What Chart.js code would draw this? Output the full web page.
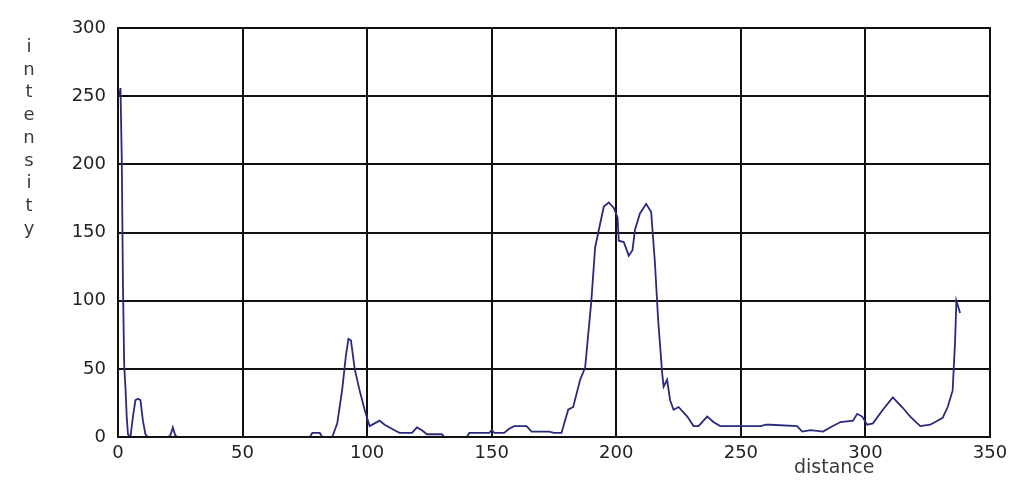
<!DOCTYPE html>
<html>
<head>
<meta charset="utf-8">
<script src="https://cdn.jsdelivr.net/npm/chart.js@4"></script>
<style>
  body { margin: 0; background: #fff; }
  #wrap { position: relative; width: 1024px; height: 487px; }
  .ylab { position: absolute; left: 19px; top: 35px; width: 20px; text-align: center;
          font: 18px "DejaVu Sans", sans-serif; line-height: 22.7px; color: #3a3a3a; }
  .xlab { position: absolute; left: 794px; top: 455px;
          font: 19px "DejaVu Sans", sans-serif; color: #3a3a3a; }
</style>
</head>
<body>
<div id="wrap">
  <canvas id="profileChart" width="1024" height="487"></canvas>
  <div class="ylab">i<br>n<br>t<br>e<br>n<br>s<br>i<br>t<br>y</div>
  <div class="xlab">distance</div>
</div>
<script>
const distance = [0.5, 1, 1.5, 2, 2.5, 3, 3.5, 4, 5, 6, 7, 8, 9, 10, 11, 12, 20, 21, 22, 23, 24,
  77, 78, 81, 82, 86, 88, 90, 91.5, 92.5, 93.5, 95, 97, 99, 100, 101, 103, 105, 107, 109, 111, 113,
  118, 120, 122, 124, 130, 131, 140, 141, 149, 150, 151, 155, 157, 159, 164, 166, 173, 175, 178,
  180.7, 182.7, 185.5, 187.5, 190, 191.5, 193, 195, 197, 199, 200.5, 201, 203, 205, 206.5, 207.5,
  209.5, 212, 214, 215.5, 216.8, 218.4, 219, 220.4, 221.6, 223, 225, 228.5, 231, 233, 236.5, 239,
  241.7, 258, 260, 262, 272.6, 274.6, 278, 283, 285.8, 290, 295, 296.7, 298.7, 300.7, 303, 307,
  311, 314.7, 318, 322, 326, 328, 331, 333, 335, 336, 336.5, 338];
const intensity = [250, 256, 205, 110, 52, 36, 15, 2, 0, 15, 27, 28, 27, 12, 2, 0, 0, 1, 7, 1, 0,
  0, 3, 3, 0, 0, 10, 35, 60, 72, 71, 50, 34, 20, 14, 8, 10, 12, 9, 7, 5, 3,
  3, 7, 5, 2, 2, 0, 0, 3, 3, 5, 3, 3, 6, 8, 8, 4, 4, 3, 3,
  20, 22, 42, 51, 100, 139, 152, 169, 172, 168, 161, 144, 143, 133, 137, 152,
  164, 171, 165, 128, 86, 47, 37, 42, 27, 20, 22, 15, 8, 8, 15, 11,
  8, 8, 9, 9, 8, 4, 5, 4, 7, 11, 12, 17, 15, 9, 10, 20,
  29, 22, 15, 8, 9, 11, 14, 22, 34, 71, 100, 91];
const xTicks = [0, 50, 100, 150, 200, 250, 300, 350];
const yTicks = [0, 50, 100, 150, 200, 250, 300];

const points = distance.map((d, i) => ({ x: d, y: intensity[i] }));
const tickFont = { family: "DejaVu Sans", size: 18 };

new Chart(document.getElementById("profileChart"), {
  type: "line",
  data: {
    datasets: [{
      data: points,
      borderColor: "#2a2a7c",
      borderWidth: 1.8,
      pointRadius: 0,
      tension: 0,
      fill: false
    }]
  },
  options: {
    responsive: false,
    animation: false,
    layout: { padding: { top: 28, right: 34, left: 0, bottom: 0 } },
    plugins: { legend: { display: false }, tooltip: { enabled: false } },
    scales: {
      x: {
        type: "linear",
        min: 0,
        max: 350,
        afterBuildTicks: axis => { axis.ticks = xTicks.map(v => ({ value: v })); },
        afterFit: axis => { axis.height = 50; },
        grid: { color: "#111", lineWidth: 2, drawTicks: false },
        border: { color: "#111", width: 2 },
        ticks: { color: "#222", font: tickFont, padding: 6, maxRotation: 0 }
      },
      y: {
        min: 0,
        max: 300,
        afterBuildTicks: axis => { axis.ticks = yTicks.map(v => ({ value: v })); },
        afterFit: axis => { axis.width = 118; },
        grid: { color: "#111", lineWidth: 2, drawTicks: false },
        border: { color: "#111", width: 2 },
        ticks: { color: "#222", font: tickFont, padding: 12 }
      }
    }
  },
  plugins: [{
    id: "frame",
    afterDraw(chart) {
      const { ctx, chartArea: a } = chart;
      ctx.save();
      ctx.strokeStyle = "#111";
      ctx.lineWidth = 2;
      ctx.strokeRect(a.left, a.top, a.right - a.left, a.bottom - a.top);
      ctx.restore();
    }
  }]
});
</script>
</body>
</html>
